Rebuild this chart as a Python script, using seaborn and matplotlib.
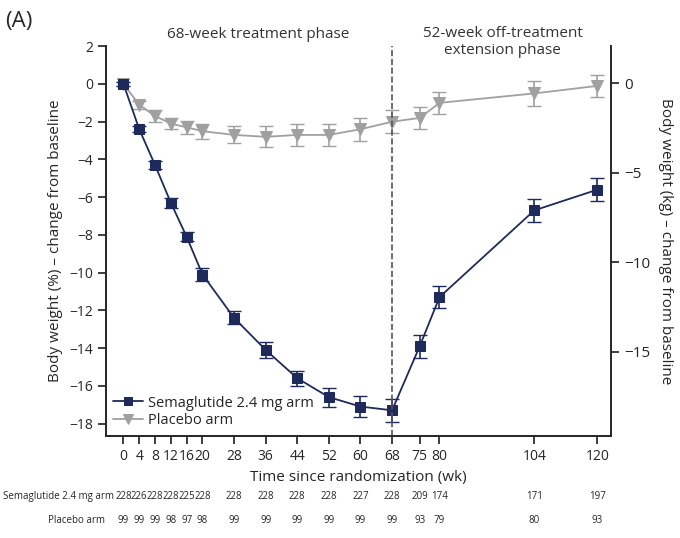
import numpy as np
import seaborn as sns
import matplotlib.pyplot as plt
import pandas as pd

sns.set_theme(style="white")
plt.rcParams['font.family'] = ['Open Sans', 'DejaVu Sans']

weeks = [0, 4, 8, 12, 16, 20, 28, 36, 44, 52, 60, 68, 75, 80, 104, 120]
sema = [0, -2.4, -4.3, -6.3, -8.1, -10.1, -12.4, -14.1, -15.6, -16.6, -17.1, -17.3, -13.9, -11.3, -6.7, -5.6]
sema_err = [0.1, 0.15, 0.2, 0.25, 0.25, 0.35, 0.35, 0.4, 0.4, 0.5, 0.55, 0.6, 0.6, 0.6, 0.6, 0.6]
plac = [0, -1.1, -1.7, -2.1, -2.3, -2.5, -2.7, -2.8, -2.7, -2.7, -2.4, -2.0, -1.8, -1.0, -0.5, -0.1]
plac_err = [0.1, 0.2, 0.3, 0.3, 0.35, 0.4, 0.45, 0.55, 0.6, 0.6, 0.6, 0.6, 0.6, 0.6, 0.65, 0.6]
n_sema = [228, 226, 228, 228, 225, 228, 228, 228, 228, 228, 227, 228, 209, 174, 171, 197]
n_plac = [99, 99, 99, 98, 97, 98, 99, 99, 99, 99, 99, 99, 93, 79, 80, 93]

navy = '#1f2a5c'
grey = '#a0a0a0'

fig = plt.figure(figsize=(6.8, 5.38), dpi=100)
ax = fig.add_axes([0.156, 0.19, 0.743, 0.724])

df = pd.DataFrame({'week': weeks, 'sema': sema, 'plac': plac})
ax.errorbar(weeks, plac, yerr=plac_err, fmt='none', ecolor=grey, capsize=5, lw=1.2)
ax.errorbar(weeks, sema, yerr=sema_err, fmt='none', ecolor=navy, capsize=5, lw=1.2)
sns.lineplot(data=df, x='week', y='plac', ax=ax, color=grey, marker='v', markersize=8,
             markeredgecolor=grey, lw=1.3, label='Placebo arm')
sns.lineplot(data=df, x='week', y='sema', ax=ax, color=navy, marker='s', markersize=7,
             markeredgecolor=navy, lw=1.3, label='Semaglutide 2.4 mg arm')
h, l = ax.get_legend_handles_labels()
ax.legend(h[::-1], l[::-1], loc='lower left', frameon=False, fontsize=10.5,
          handlelength=2.0, borderaxespad=0.1, labelspacing=0.2, handletextpad=0.4,
          markerscale=0.85)

ax.axvline(68, color='#555555', ls='--', lw=1.2)
ax.set_xlim(-4.4, 123.5)
ax.set_ylim(-18.65, 2)
ax.set_xticks(weeks)
ax.set_xticklabels([str(w) for w in weeks], fontsize=10)
ax.set_yticks(range(-18, 3, 2))
ax.tick_params(axis='both', direction='out', length=6, labelsize=10, bottom=True, left=True)
ax.set_xlabel('Time since randomization (wk)', fontsize=11)
ax.set_ylabel('Body weight (%) – change from baseline', fontsize=11)
ax.spines['top'].set_visible(False)
for s in ax.spines.values():
    s.set_color('#333333')

ax2 = ax.twinx()
ax2.set_ylim(-19.7, 2.06)
ax2.set_yticks([-15, -10, -5, 0])
ax2.tick_params(axis='y', direction='out', length=6, labelsize=11, right=True)
ax2.set_ylabel('Body weight (kg) – change from baseline', fontsize=11, rotation=270, labelpad=16)
ax2.spines['top'].set_visible(False)

ax.text(34, 2.2, '68-week treatment phase', ha='center', va='bottom',
        fontsize=11, color='#333333')
ax.text(96, 1.4, '52-week off-treatment\nextension phase', ha='center', va='bottom',
        fontsize=11, color='#333333', linespacing=1.1)
fig.text(0.008, 0.96, '(A)', fontsize=16, va='center')

tr = ax.get_xaxis_transform()
for w, a, b in zip(weeks, n_sema, n_plac):
    ax.text(w, -0.157, str(a), transform=tr, ha='center', va='center', fontsize=7)
    ax.text(w, -0.218, str(b), transform=tr, ha='center', va='center', fontsize=7)
fig.text(0.005, 0.19 - 0.157 * 0.724, 'Semaglutide 2.4 mg arm', ha='left', va='center', fontsize=7)
fig.text(0.155, 0.19 - 0.218 * 0.724, 'Placebo arm', ha='right', va='center', fontsize=7)

fig.savefig('out.png', dpi=100)
